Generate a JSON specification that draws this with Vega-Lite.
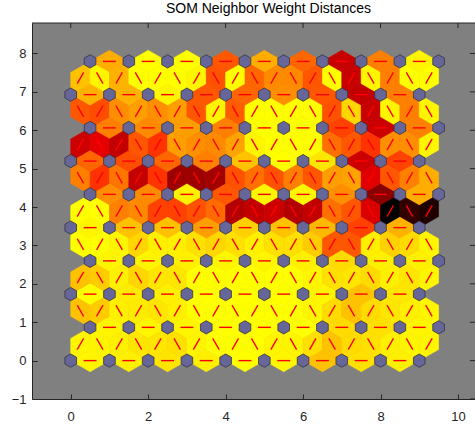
{
  "$schema": "https://vega.github.io/schema/vega-lite/v6.json",
  "width": 443,
  "height": 376,
  "autosize": {"type": "none"},
  "padding": {"left": 32, "top": 23, "right": 0, "bottom": 28},
  "background": "#ffffff",
  "title": {"text": "SOM Neighbor Weight Distances", "fontSize": 14, "fontWeight": "normal", "font": "Liberation Sans", "color": "#000000", "offset": 7, "dx": 15},
  "config": {
    "view": {"stroke": null, "fill": "#808080"},
    "axis": {"grid": false, "domainColor": "#262626", "tickColor": "#262626", "labelColor": "#262626", "labelFont": "Liberation Sans", "labelFontSize": 13, "title": null, "tickSize": -5, "domainWidth": 1, "tickWidth": 1}
  },
  "datasets": {
    "edges": [
      {"x":0.5,"y":0,"dir":"h","d":0.02},{"x":1.5,"y":0,"dir":"h","d":0.03},{"x":2.5,"y":0,"dir":"h","d":0.05},{"x":3.5,"y":0,"dir":"h","d":0.03},{"x":4.5,"y":0,"dir":"h","d":0},{"x":5.5,"y":0,"dir":"h","d":0.02},{"x":6.5,"y":0,"dir":"h","d":0.12},{"x":7.5,"y":0,"dir":"h","d":0.06},{"x":8.5,"y":0,"dir":"h","d":0.03},
      {"x":1,"y":0.866,"dir":"h","d":0.02},{"x":2,"y":0.866,"dir":"h","d":0.02},{"x":3,"y":0.866,"dir":"h","d":0.02},{"x":4,"y":0.866,"dir":"h","d":0},{"x":5,"y":0.866,"dir":"h","d":0},{"x":6,"y":0.866,"dir":"h","d":0},{"x":7,"y":0.866,"dir":"h","d":0.07},{"x":8,"y":0.866,"dir":"h","d":0.06},{"x":9,"y":0.866,"dir":"h","d":0.02},
      {"x":0.5,"y":1.732,"dir":"h","d":0},{"x":1.5,"y":1.732,"dir":"h","d":0.04},{"x":2.5,"y":1.732,"dir":"h","d":0.03},{"x":3.5,"y":1.732,"dir":"h","d":0},{"x":4.5,"y":1.732,"dir":"h","d":0},{"x":5.5,"y":1.732,"dir":"h","d":0},{"x":6.5,"y":1.732,"dir":"h","d":0.02},{"x":7.5,"y":1.732,"dir":"h","d":0.12},{"x":8.5,"y":1.732,"dir":"h","d":0.05},
      {"x":1,"y":2.598,"dir":"h","d":0.02},{"x":2,"y":2.598,"dir":"h","d":0.02},{"x":3,"y":2.598,"dir":"h","d":0.03},{"x":4,"y":2.598,"dir":"h","d":0.02},{"x":5,"y":2.598,"dir":"h","d":0.02},{"x":6,"y":2.598,"dir":"h","d":0.03},{"x":7,"y":2.598,"dir":"h","d":0.07},{"x":8,"y":2.598,"dir":"h","d":0.03},{"x":9,"y":2.598,"dir":"h","d":0.03},
      {"x":0.5,"y":3.464,"dir":"h","d":0.02},{"x":1.5,"y":3.464,"dir":"h","d":0.12},{"x":2.5,"y":3.464,"dir":"h","d":0.12},{"x":3.5,"y":3.464,"dir":"h","d":0.19},{"x":4.5,"y":3.464,"dir":"h","d":0.09},{"x":5.5,"y":3.464,"dir":"h","d":0.12},{"x":6.5,"y":3.464,"dir":"h","d":0.14},{"x":7.5,"y":3.464,"dir":"h","d":0.37},{"x":8.5,"y":3.464,"dir":"h","d":0.15},
      {"x":1,"y":4.33,"dir":"h","d":0.22},{"x":2,"y":4.33,"dir":"h","d":0.23},{"x":3,"y":4.33,"dir":"h","d":0.03},{"x":4,"y":4.33,"dir":"h","d":0.33},{"x":5,"y":4.33,"dir":"h","d":0.02},{"x":6,"y":4.33,"dir":"h","d":0.02},{"x":7,"y":4.33,"dir":"h","d":0.22},{"x":8,"y":4.33,"dir":"h","d":0.73},{"x":9,"y":4.33,"dir":"h","d":0.16},
      {"x":0.5,"y":5.196,"dir":"h","d":0.3},{"x":1.5,"y":5.196,"dir":"h","d":0.35},{"x":2.5,"y":5.196,"dir":"h","d":0.3},{"x":3.5,"y":5.196,"dir":"h","d":0.25},{"x":4.5,"y":5.196,"dir":"h","d":0.12},{"x":5.5,"y":5.196,"dir":"h","d":0},{"x":6.5,"y":5.196,"dir":"h","d":0.05},{"x":7.5,"y":5.196,"dir":"h","d":0.6},{"x":8.5,"y":5.196,"dir":"h","d":0.37},
      {"x":1,"y":6.062,"dir":"h","d":0.25},{"x":2,"y":6.062,"dir":"h","d":0.23},{"x":3,"y":6.062,"dir":"h","d":0.19},{"x":4,"y":6.062,"dir":"h","d":0.25},{"x":5,"y":6.062,"dir":"h","d":0},{"x":6,"y":6.062,"dir":"h","d":0},{"x":7,"y":6.062,"dir":"h","d":0.37},{"x":8,"y":6.062,"dir":"h","d":0.6},{"x":9,"y":6.062,"dir":"h","d":0.25},
      {"x":0.5,"y":6.928,"dir":"h","d":0.15},{"x":1.5,"y":6.928,"dir":"h","d":0.15},{"x":2.5,"y":6.928,"dir":"h","d":0.02},{"x":3.5,"y":6.928,"dir":"h","d":0.33},{"x":4.5,"y":6.928,"dir":"h","d":0.3},{"x":5.5,"y":6.928,"dir":"h","d":0.22},{"x":6.5,"y":6.928,"dir":"h","d":0.33},{"x":7.5,"y":6.928,"dir":"h","d":0.62},{"x":8.5,"y":6.928,"dir":"h","d":0.25},
      {"x":1,"y":7.794,"dir":"h","d":0.16},{"x":2,"y":7.794,"dir":"h","d":0},{"x":3,"y":7.794,"dir":"h","d":0},{"x":4,"y":7.794,"dir":"h","d":0.33},{"x":5,"y":7.794,"dir":"h","d":0.16},{"x":6,"y":7.794,"dir":"h","d":0.3},{"x":7,"y":7.794,"dir":"h","d":0.61},{"x":8,"y":7.794,"dir":"h","d":0.25},{"x":9,"y":7.794,"dir":"h","d":0.02},

      {"x":0.25,"y":0.433,"dir":"u","d":0.02},{"x":0.75,"y":0.433,"dir":"d","d":0.02},{"x":1.25,"y":0.433,"dir":"u","d":0.03},{"x":1.75,"y":0.433,"dir":"d","d":0.05},{"x":2.25,"y":0.433,"dir":"u","d":0.05},{"x":2.75,"y":0.433,"dir":"d","d":0.06},{"x":3.25,"y":0.433,"dir":"u","d":0.02},{"x":3.75,"y":0.433,"dir":"d","d":0},{"x":4.25,"y":0.433,"dir":"u","d":0},{"x":4.75,"y":0.433,"dir":"d","d":0},{"x":5.25,"y":0.433,"dir":"u","d":0.02},{"x":5.75,"y":0.433,"dir":"d","d":0.02},{"x":6.25,"y":0.433,"dir":"u","d":0.06},{"x":6.75,"y":0.433,"dir":"d","d":0.12},{"x":7.25,"y":0.433,"dir":"u","d":0.07},{"x":7.75,"y":0.433,"dir":"d","d":0.06},{"x":8.25,"y":0.433,"dir":"u","d":0.03},{"x":8.75,"y":0.433,"dir":"d","d":0.02},{"x":9.25,"y":0.433,"dir":"u","d":0.02},

      {"x":0.25,"y":1.299,"dir":"d","d":0.12},{"x":0.75,"y":1.299,"dir":"u","d":0.1},{"x":1.25,"y":1.299,"dir":"d","d":0.03},{"x":1.75,"y":1.299,"dir":"u","d":0.04},{"x":2.25,"y":1.299,"dir":"d","d":0.05},{"x":2.75,"y":1.299,"dir":"u","d":0.03},{"x":3.25,"y":1.299,"dir":"d","d":0},{"x":3.75,"y":1.299,"dir":"u","d":0},{"x":4.25,"y":1.299,"dir":"d","d":0},{"x":4.75,"y":1.299,"dir":"u","d":0},{"x":5.25,"y":1.299,"dir":"d","d":0},{"x":5.75,"y":1.299,"dir":"u","d":0},{"x":6.25,"y":1.299,"dir":"d","d":0.02},{"x":6.75,"y":1.299,"dir":"u","d":0.07},{"x":7.25,"y":1.299,"dir":"d","d":0.12},{"x":7.75,"y":1.299,"dir":"u","d":0.07},{"x":8.25,"y":1.299,"dir":"d","d":0.05},{"x":8.75,"y":1.299,"dir":"u","d":0.03},{"x":9.25,"y":1.299,"dir":"d","d":0.02},

      {"x":0.25,"y":2.165,"dir":"u","d":0.12},{"x":0.75,"y":2.165,"dir":"d","d":0.1},{"x":1.25,"y":2.165,"dir":"u","d":0.03},{"x":1.75,"y":2.165,"dir":"d","d":0.08},{"x":2.25,"y":2.165,"dir":"u","d":0.05},{"x":2.75,"y":2.165,"dir":"d","d":0.05},{"x":3.25,"y":2.165,"dir":"u","d":0},{"x":3.75,"y":2.165,"dir":"d","d":0},{"x":4.25,"y":2.165,"dir":"u","d":0},{"x":4.75,"y":2.165,"dir":"d","d":0},{"x":5.25,"y":2.165,"dir":"u","d":0},{"x":5.75,"y":2.165,"dir":"d","d":0},{"x":6.25,"y":2.165,"dir":"u","d":0.02},{"x":6.75,"y":2.165,"dir":"d","d":0.06},{"x":7.25,"y":2.165,"dir":"u","d":0.05},{"x":7.75,"y":2.165,"dir":"d","d":0.07},{"x":8.25,"y":2.165,"dir":"u","d":0.03},{"x":8.75,"y":2.165,"dir":"d","d":0.05},{"x":9.25,"y":2.165,"dir":"u","d":0.02},

      {"x":0.25,"y":3.031,"dir":"d","d":0},{"x":0.75,"y":3.031,"dir":"u","d":0},{"x":1.25,"y":3.031,"dir":"d","d":0.02},{"x":1.75,"y":3.031,"dir":"u","d":0.08},{"x":2.25,"y":3.031,"dir":"d","d":0.03},{"x":2.75,"y":3.031,"dir":"u","d":0.03},{"x":3.25,"y":3.031,"dir":"d","d":0.06},{"x":3.75,"y":3.031,"dir":"u","d":0.08},{"x":4.25,"y":3.031,"dir":"d","d":0.06},{"x":4.75,"y":3.031,"dir":"u","d":0.03},{"x":5.25,"y":3.031,"dir":"d","d":0.06},{"x":5.75,"y":3.031,"dir":"u","d":0.06},{"x":6.25,"y":3.031,"dir":"d","d":0.1},{"x":6.75,"y":3.031,"dir":"u","d":0.33},{"x":7.25,"y":3.031,"dir":"d","d":0.33},{"x":7.75,"y":3.031,"dir":"u","d":0.03},{"x":8.25,"y":3.031,"dir":"d","d":0.09},{"x":8.75,"y":3.031,"dir":"u","d":0.07},{"x":9.25,"y":3.031,"dir":"d","d":0.02},

      {"x":0.25,"y":3.897,"dir":"u","d":0},{"x":0.75,"y":3.897,"dir":"d","d":0},{"x":1.25,"y":3.897,"dir":"u","d":0.25},{"x":1.75,"y":3.897,"dir":"d","d":0.23},{"x":2.25,"y":3.897,"dir":"u","d":0.37},{"x":2.75,"y":3.897,"dir":"d","d":0.37},{"x":3.25,"y":3.897,"dir":"u","d":0.34},{"x":3.75,"y":3.897,"dir":"d","d":0.29},{"x":4.25,"y":3.897,"dir":"u","d":0.65},{"x":4.75,"y":3.897,"dir":"d","d":0.62},{"x":5.25,"y":3.897,"dir":"u","d":0.6},{"x":5.75,"y":3.897,"dir":"d","d":0.65},{"x":6.25,"y":3.897,"dir":"u","d":0.62},{"x":6.75,"y":3.897,"dir":"d","d":0.28},{"x":7.25,"y":3.897,"dir":"u","d":0.33},{"x":7.75,"y":3.897,"dir":"d","d":0.57},{"x":8.25,"y":3.897,"dir":"u","d":1.0},{"x":8.75,"y":3.897,"dir":"d","d":0.9},{"x":9.25,"y":3.897,"dir":"u","d":0.94},

      {"x":0.25,"y":4.763,"dir":"d","d":0.25},{"x":0.75,"y":4.763,"dir":"u","d":0.4},{"x":1.25,"y":4.763,"dir":"d","d":0.27},{"x":1.75,"y":4.763,"dir":"u","d":0.62},{"x":2.25,"y":4.763,"dir":"d","d":0.4},{"x":2.75,"y":4.763,"dir":"u","d":0.69},{"x":3.25,"y":4.763,"dir":"d","d":0.69},{"x":3.75,"y":4.763,"dir":"u","d":0.68},{"x":4.25,"y":4.763,"dir":"d","d":0.34},{"x":4.75,"y":4.763,"dir":"u","d":0.28},{"x":5.25,"y":4.763,"dir":"d","d":0.34},{"x":5.75,"y":4.763,"dir":"u","d":0.25},{"x":6.25,"y":4.763,"dir":"d","d":0.33},{"x":6.75,"y":4.763,"dir":"u","d":0.19},{"x":7.25,"y":4.763,"dir":"d","d":0.18},{"x":7.75,"y":4.763,"dir":"u","d":0.56},{"x":8.25,"y":4.763,"dir":"d","d":0.33},{"x":8.75,"y":4.763,"dir":"u","d":0.25},{"x":9.25,"y":4.763,"dir":"d","d":0.16},

      {"x":0.25,"y":5.629,"dir":"u","d":0.6},{"x":0.75,"y":5.629,"dir":"d","d":0.55},{"x":1.25,"y":5.629,"dir":"u","d":0.62},{"x":1.75,"y":5.629,"dir":"d","d":0.33},{"x":2.25,"y":5.629,"dir":"u","d":0.4},{"x":2.75,"y":5.629,"dir":"d","d":0.19},{"x":3.25,"y":5.629,"dir":"u","d":0.22},{"x":3.75,"y":5.629,"dir":"d","d":0.23},{"x":4.25,"y":5.629,"dir":"u","d":0.18},{"x":4.75,"y":5.629,"dir":"d","d":0.02},{"x":5.25,"y":5.629,"dir":"u","d":0},{"x":5.75,"y":5.629,"dir":"d","d":0},{"x":6.25,"y":5.629,"dir":"u","d":0},{"x":6.75,"y":5.629,"dir":"d","d":0.28},{"x":7.25,"y":5.629,"dir":"u","d":0.33},{"x":7.75,"y":5.629,"dir":"d","d":0.4},{"x":8.25,"y":5.629,"dir":"u","d":0.22},{"x":8.75,"y":5.629,"dir":"d","d":0.22},{"x":9.25,"y":5.629,"dir":"u","d":0.02},

      {"x":0.25,"y":6.495,"dir":"d","d":0.33},{"x":0.75,"y":6.495,"dir":"u","d":0.35},{"x":1.25,"y":6.495,"dir":"d","d":0.22},{"x":1.75,"y":6.495,"dir":"u","d":0.19},{"x":2.25,"y":6.495,"dir":"d","d":0.22},{"x":2.75,"y":6.495,"dir":"u","d":0.19},{"x":3.25,"y":6.495,"dir":"d","d":0.33},{"x":3.75,"y":6.495,"dir":"u","d":0.02},{"x":4.25,"y":6.495,"dir":"d","d":0.32},{"x":4.75,"y":6.495,"dir":"u","d":0},{"x":5.25,"y":6.495,"dir":"d","d":0},{"x":5.75,"y":6.495,"dir":"u","d":0},{"x":6.25,"y":6.495,"dir":"d","d":0},{"x":6.75,"y":6.495,"dir":"u","d":0.34},{"x":7.25,"y":6.495,"dir":"d","d":0.08},{"x":7.75,"y":6.495,"dir":"u","d":0.61},{"x":8.25,"y":6.495,"dir":"d","d":0.02},{"x":8.75,"y":6.495,"dir":"u","d":0.25},{"x":9.25,"y":6.495,"dir":"d","d":0.02},

      {"x":0.25,"y":7.361,"dir":"u","d":0.12},{"x":0.75,"y":7.361,"dir":"d","d":0.02},{"x":1.25,"y":7.361,"dir":"u","d":0.15},{"x":1.75,"y":7.361,"dir":"d","d":0},{"x":2.25,"y":7.361,"dir":"u","d":0},{"x":2.75,"y":7.361,"dir":"d","d":0},{"x":3.25,"y":7.361,"dir":"u","d":0.02},{"x":3.75,"y":7.361,"dir":"d","d":0.34},{"x":4.25,"y":7.361,"dir":"u","d":0},{"x":4.75,"y":7.361,"dir":"d","d":0.3},{"x":5.25,"y":7.361,"dir":"u","d":0.23},{"x":5.75,"y":7.361,"dir":"d","d":0.23},{"x":6.25,"y":7.361,"dir":"u","d":0.33},{"x":6.75,"y":7.361,"dir":"d","d":0},{"x":7.25,"y":7.361,"dir":"u","d":0.61},{"x":7.75,"y":7.361,"dir":"d","d":0.02},{"x":8.25,"y":7.361,"dir":"u","d":0.25},{"x":8.75,"y":7.361,"dir":"d","d":0},{"x":9.25,"y":7.361,"dir":"u","d":0}
    ],
    "neurons": [
      {"x":0,"y":0},{"x":1,"y":0},{"x":2,"y":0},{"x":3,"y":0},{"x":4,"y":0},{"x":5,"y":0},{"x":6,"y":0},{"x":7,"y":0},{"x":8,"y":0},{"x":9,"y":0},
      {"x":0.5,"y":0.866},{"x":1.5,"y":0.866},{"x":2.5,"y":0.866},{"x":3.5,"y":0.866},{"x":4.5,"y":0.866},{"x":5.5,"y":0.866},{"x":6.5,"y":0.866},{"x":7.5,"y":0.866},{"x":8.5,"y":0.866},{"x":9.5,"y":0.866},
      {"x":0,"y":1.732},{"x":1,"y":1.732},{"x":2,"y":1.732},{"x":3,"y":1.732},{"x":4,"y":1.732},{"x":5,"y":1.732},{"x":6,"y":1.732},{"x":7,"y":1.732},{"x":8,"y":1.732},{"x":9,"y":1.732},
      {"x":0.5,"y":2.598},{"x":1.5,"y":2.598},{"x":2.5,"y":2.598},{"x":3.5,"y":2.598},{"x":4.5,"y":2.598},{"x":5.5,"y":2.598},{"x":6.5,"y":2.598},{"x":7.5,"y":2.598},{"x":8.5,"y":2.598},{"x":9.5,"y":2.598},
      {"x":0,"y":3.464},{"x":1,"y":3.464},{"x":2,"y":3.464},{"x":3,"y":3.464},{"x":4,"y":3.464},{"x":5,"y":3.464},{"x":6,"y":3.464},{"x":7,"y":3.464},{"x":8,"y":3.464},{"x":9,"y":3.464},
      {"x":0.5,"y":4.33},{"x":1.5,"y":4.33},{"x":2.5,"y":4.33},{"x":3.5,"y":4.33},{"x":4.5,"y":4.33},{"x":5.5,"y":4.33},{"x":6.5,"y":4.33},{"x":7.5,"y":4.33},{"x":8.5,"y":4.33},{"x":9.5,"y":4.33},
      {"x":0,"y":5.196},{"x":1,"y":5.196},{"x":2,"y":5.196},{"x":3,"y":5.196},{"x":4,"y":5.196},{"x":5,"y":5.196},{"x":6,"y":5.196},{"x":7,"y":5.196},{"x":8,"y":5.196},{"x":9,"y":5.196},
      {"x":0.5,"y":6.062},{"x":1.5,"y":6.062},{"x":2.5,"y":6.062},{"x":3.5,"y":6.062},{"x":4.5,"y":6.062},{"x":5.5,"y":6.062},{"x":6.5,"y":6.062},{"x":7.5,"y":6.062},{"x":8.5,"y":6.062},{"x":9.5,"y":6.062},
      {"x":0,"y":6.928},{"x":1,"y":6.928},{"x":2,"y":6.928},{"x":3,"y":6.928},{"x":4,"y":6.928},{"x":5,"y":6.928},{"x":6,"y":6.928},{"x":7,"y":6.928},{"x":8,"y":6.928},{"x":9,"y":6.928},
      {"x":0.5,"y":7.794},{"x":1.5,"y":7.794},{"x":2.5,"y":7.794},{"x":3.5,"y":7.794},{"x":4.5,"y":7.794},{"x":5.5,"y":7.794},{"x":6.5,"y":7.794},{"x":7.5,"y":7.794},{"x":8.5,"y":7.794},{"x":9.5,"y":7.794}
    ],
    "xticks": [{"t":0},{"t":2},{"t":4},{"t":6},{"t":8},{"t":10}],
    "yticks": [{"t":-1},{"t":0},{"t":1},{"t":2},{"t":3},{"t":4},{"t":5},{"t":6},{"t":7},{"t":8}]
  },
  "layer": [
    {
      "data": {"name": "edges"},
      "mark": {"type": "point", "filled": true, "opacity": 1, "size": 400, "strokeWidth": 0.6},
      "encoding": {
        "x": {"field": "x", "type": "quantitative", "scale": {"domain": [-1, 10.44], "nice": false, "zero": false}, "axis": {"values": [0, 2, 4, 6, 8, 10], "orient": "bottom", "labelPadding": 16}},
        "y": {"field": "y", "type": "quantitative", "scale": {"domain": [-1, 8.794], "nice": false, "zero": false}, "axis": {"values": [-1, 0, 1, 2, 3, 4, 5, 6, 7, 8], "orient": "left", "labelPadding": 11}},
        "shape": {"field": "dir", "type": "nominal", "scale": {"domain": ["h", "u", "d"], "range": ["M-1.936,0L0,-1.109L1.936,0L0,1.109Z", "M-0.968,1.663L0.968,0.554L0.968,-1.663L-0.968,-0.554Z", "M0.968,1.663L-0.968,0.554L-0.968,-1.663L0.968,-0.554Z"]}, "legend": null},
        "color": {"field": "d", "type": "quantitative", "scale": {"domain": [0, 0.5, 1], "range": ["#ffff00", "#ff0000", "#000000"], "interpolate": "rgb"}, "legend": null},
        "stroke": {"field": "d", "type": "quantitative", "scale": {"domain": [0, 0.5, 1], "range": ["#ffff00", "#ff0000", "#000000"], "interpolate": "rgb"}, "legend": null}
      }
    },
    {
      "data": {"name": "edges"},
      "mark": {"type": "point", "filled": false, "opacity": 1, "size": 400, "color": "#ff0000", "strokeWidth": 1.4},
      "encoding": {
        "x": {"field": "x", "type": "quantitative"},
        "y": {"field": "y", "type": "quantitative"},
        "shape": {"field": "dir", "type": "nominal", "scale": {"domain": ["h", "u", "d"], "range": ["M-0.645,0L0.645,0", "M-0.323,0.554L0.323,-0.554", "M0.323,0.554L-0.323,-0.554"]}, "legend": null}
      }
    },
    {
      "data": {"name": "neurons"},
      "mark": {"type": "point", "filled": true, "opacity": 1, "size": 400, "shape": "M0,-0.665L0.581,-0.333L0.581,0.333L0,0.665L-0.581,0.333L-0.581,-0.333Z", "fill": "#666699", "stroke": "#333344", "strokeWidth": 0.8},
      "encoding": {
        "x": {"field": "x", "type": "quantitative"},
        "y": {"field": "y", "type": "quantitative"}
      }
    },
    {
      "data": {"values": [{}]},
      "mark": {"type": "rule", "color": "#262626", "strokeWidth": 1},
      "encoding": {"y": {"datum": 8.794}}
    },
    {
      "data": {"name": "xticks"},
      "mark": {"type": "rule", "color": "#262626", "strokeWidth": 1},
      "encoding": {"x": {"field": "t", "type": "quantitative"}, "y": {"datum": 8.794}, "y2": {"datum": 8.664}}
    },
    {
      "data": {"name": "yticks"},
      "mark": {"type": "rule", "color": "#262626", "strokeWidth": 1},
      "encoding": {"y": {"field": "t", "type": "quantitative"}, "x": {"datum": 10.44}, "x2": {"datum": 10.31}}
    }
  ],
  "resolve": {"scale": {"shape": "independent"}}
}
